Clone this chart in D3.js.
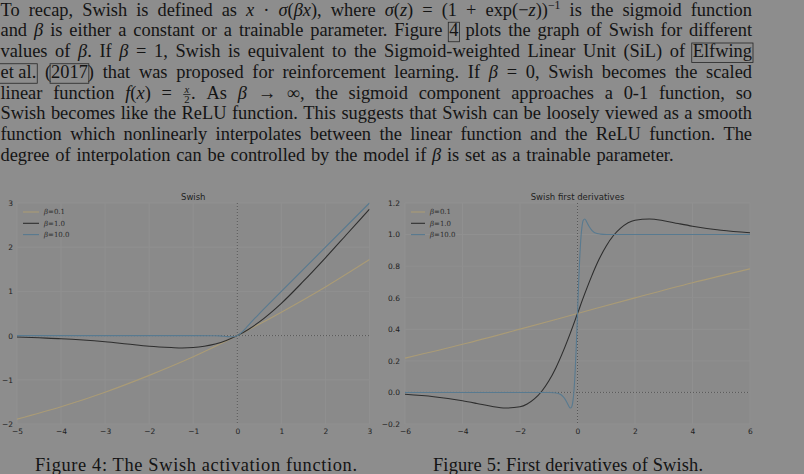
<!DOCTYPE html>
<html><head><meta charset="utf-8">
<script src="https://cdn.jsdelivr.net/npm/d3@7"></script>
<style>body{margin:0;background:#8d8d8d}svg{display:block}</style>
</head><body>
<svg id="c" width="804" height="474"></svg>
<script>
// ---------- DATA ----------
const paraLines = [
 "To recap, Swish is defined as _x_ · _σ_(_βx_), where _σ_(_z_) = (1 + exp(−_z_))^−1 is the sigmoid function",
 "and _β_ is either a constant or a trainable parameter. Figure [4] plots the graph of Swish for different",
 "values of _β_. If _β_ = 1, Swish is equivalent to the Sigmoid-weighted Linear Unit (SiL) of [Elfwing]",
 "[et~al.] ([2017]) that was proposed for reinforcement learning. If _β_ = 0, Swish becomes the scaled",
 "linear function _f_(_x_) = %. As _β_ → ∞, the sigmoid component approaches a 0-1 function, so",
 "Swish becomes like the ReLU function. This suggests that Swish can be loosely viewed as a smooth",
 "function which nonlinearly interpolates between the linear function and the ReLU function. The",
 "degree of interpolation can be controlled by the model if _β_ is set as a trainable parameter."
];
const captions = ["Figure 4: The Swish activation function.", "Figure 5: First derivatives of Swish."];
const titles = ["Swish", "Swish first derivatives"];
const legendLabels = ["0.1", "1.0", "10.0"];

// Chart 1: Swish
const c1XTicks = [-5,-4,-3,-2,-1,0,1,2,3];
const c1YTicks = [-2,-1,0,1,2,3];
const s01X = [-5,-4,-3,-2,-1,0,1,2,3];
const s01Y = [-1.89,-1.61,-1.28,-0.90,-0.48,0,0.53,1.10,1.72];
const s1X = [-5,-4.5,-4,-3.5,-3,-2.5,-2,-1.5,-1.25,-1,-0.75,-0.5,-0.25,0,0.25,0.5,0.75,1,1.5,2,2.5,3];
const s1Y = [-0.03,-0.05,-0.07,-0.10,-0.14,-0.19,-0.24,-0.27,-0.28,-0.27,-0.24,-0.19,-0.11,0,0.14,0.31,0.51,0.73,1.23,1.76,2.31,2.86];
const s10X = [-5,-1,-0.5,-0.4,-0.3,-0.2,-0.15,-0.1,-0.05,0,0.05,0.1,0.15,0.2,0.3,0.4,0.5,1,3];
const s10Y = [0,0,-0.003,-0.007,-0.014,-0.024,-0.027,-0.027,-0.019,0,0.031,0.073,0.123,0.176,0.286,0.393,0.497,1,3];

// Chart 2: first derivatives
const c2XTicks = [-6,-4,-2,0,2,4,6];
const c2YTicks = [-0.2,0.0,0.2,0.4,0.6,0.8,1.0,1.2];
const d01X = [-6,-4,-2,0,2,4,6];
const d01Y = [0.217,0.305,0.401,0.5,0.599,0.695,0.783];
const d1X = [-6,-5,-4,-3.5,-3,-2.5,-2,-1.75,-1.5,-1.25,-1,-0.75,-0.5,-0.25,0,0.25,0.5,0.75,1,1.25,1.5,2,2.5,3,3.5,4,5,6];
const d1Y = [-0.012,-0.027,-0.053,-0.070,-0.088,-0.099,-0.091,-0.073,-0.041,0.006,0.072,0.157,0.260,0.376,0.5,0.624,0.740,0.843,0.928,0.994,1.041,1.091,1.099,1.088,1.070,1.053,1.027,1.012];
const d10X = [-6,-1,-0.8,-0.6,-0.5,-0.4,-0.35,-0.3,-0.25,-0.2,-0.175,-0.15,-0.125,-0.1,-0.075,-0.05,-0.025,0,0.025,0.05,0.075,0.1,0.125,0.15,0.2,0.25,0.3,0.35,0.4,0.5,0.6,0.8,1,6];
const d10Y = [0,-0.0005,-0.002,-0.012,-0.027,-0.053,-0.070,-0.088,-0.099,-0.091,-0.073,-0.041,0.006,0.072,0.157,0.260,0.376,0.5,0.624,0.740,0.843,0.928,0.994,1.041,1.091,1.099,1.088,1.070,1.053,1.027,1.012,1.003,1.0005,1.0];

// ---------- STYLE ----------
const PAGE = "#8d8d8d", PLOT = "#8a8a8a", GRID = "#909090", TEXT = "#141414", AXT = "#1e1e1e";
const COLORS = ["#aa9b76", "#2e2e2e", "#587a90"];
const FS = 18.4;

const svg = d3.select("#c");
svg.append("rect").attr("width",804).attr("height",474).attr("fill",PAGE);

// ---------- PARAGRAPH ----------
const para = svg.append("g").attr("font-family","'Liberation Serif','Times New Roman',serif")
  .attr("font-size",FS).attr("fill",TEXT);

function parseToken(tok){
  const runs=[]; let it=false, box=false, sup=false; let cur={t:"",it,box,sup};
  const push=()=>{ if(cur.t) runs.push(cur); };
  for (const ch of tok){
    if(ch==='_'){ push(); it=!it; cur={t:"",it,box,sup}; }
    else if(ch==='['){ push(); box=true; cur={t:"",it,box,sup}; }
    else if(ch===']'){ push(); box=false; cur={t:"",it,box,sup}; }
    else if(ch==='^'){ push(); sup=true; cur={t:"",it,box,sup}; }
    else if(ch==='%'){ push(); runs.push({frac:true}); cur={t:"",it,box,sup}; }
    else cur.t += (ch==='~' ? '\u00a0' : ch);
  }
  push(); return runs;
}
function renderToken(g, runs){
  let x=0;
  runs.forEach(r=>{
    if(r.frac){
      const fs=FS*0.58;
      const n=g.append("text").attr("y",-5.8).attr("font-size",fs).attr("font-style","italic").text("x");
      const d=g.append("text").attr("y",4.6).attr("font-size",fs).text("2");
      const nw=n.node().getComputedTextLength(), dw=d.node().getComputedTextLength();
      const w=Math.max(nw,dw)+3;
      n.attr("x",x+(w-nw)/2); d.attr("x",x+(w-dw)/2);
      g.append("line").attr("x1",x+0.5).attr("x2",x+w-0.5).attr("y1",-4).attr("y2",-4)
        .attr("stroke",TEXT).attr("stroke-width",0.7);
      x+=w; return;
    }
    const t=g.append("text").attr("x",x).attr("y",r.sup?-6.3:0).text(r.t);
    if(r.it) t.attr("font-style","italic");
    if(r.sup) t.attr("font-size",FS*0.64);
    const w=t.node().getComputedTextLength();
    if(r.box) g.append("rect").attr("x",x-1).attr("y",-14).attr("width",w+2).attr("height",19.5)
      .attr("fill","none").attr("stroke","#262626").attr("stroke-width",0.8);
    x+=w;
  });
  return x;
}
const X0 = 0.5, BASE0 = 15.5, LEAD = 20.75;
const lineEnds = [752, 752, 752, 752, 752, 752, 752, 673.5];
paraLines.forEach((line,i)=>{
  const y = BASE0 + i*LEAD;
  const toks = line.split(" ");
  const gs = toks.map(tk=>{ const g=para.append("g"); const w=renderToken(g, parseToken(tk)); return {g,w}; });
  const total = d3.sum(gs,d=>d.w);
  const gap = (lineEnds[i]-X0-total)/(gs.length-1);
  let x = X0;
  gs.forEach(d=>{ d.g.attr("transform",`translate(${x},${y})`); x += d.w + gap; });
});

// captions
const capX = [35, 433], capW = [322, 270];
svg.append("g").attr("font-family","'Liberation Serif','Times New Roman',serif").attr("font-size",FS).attr("fill",TEXT)
  .selectAll("text").data(captions).join("text")
  .attr("x",(d,i)=>capX[i]).attr("y",470.5)
  .attr("textLength",(d,i)=>capW[i]).attr("lengthAdjust","spacing").text(d=>d);

// ---------- CHARTS ----------
function chart(cfg){
  const x = d3.scaleLinear(cfg.xd,[cfg.left,cfg.right]);
  const y = d3.scaleLinear(cfg.yd,[cfg.bottom,cfg.top]);
  const g = svg.append("g");
  g.append("rect").attr("x",cfg.left).attr("y",cfg.top).attr("width",cfg.right-cfg.left)
    .attr("height",cfg.bottom-cfg.top).attr("fill",PLOT);
  // grid
  g.selectAll(".gx").data(cfg.xt).join("line").attr("x1",d=>x(d)).attr("x2",d=>x(d))
    .attr("y1",cfg.top).attr("y2",cfg.bottom).attr("stroke",GRID).attr("stroke-width",1);
  g.selectAll(".gy").data(cfg.yt).join("line").attr("y1",d=>y(d)).attr("y2",d=>y(d))
    .attr("x1",cfg.left).attr("x2",cfg.right).attr("stroke",GRID).attr("stroke-width",1);
  // zero lines
  g.append("line").attr("x1",x(0)).attr("x2",x(0)).attr("y1",cfg.top).attr("y2",cfg.bottom)
    .attr("stroke","#4a4a4a").attr("stroke-width",0.8).attr("stroke-dasharray","1,2");
  g.append("line").attr("x1",cfg.left).attr("x2",cfg.right).attr("y1",y(0)).attr("y2",y(0))
    .attr("stroke","#4a4a4a").attr("stroke-width",0.8).attr("stroke-dasharray","1,2");
  // curves
  const clipId = "clip"+cfg.id;
  svg.append("clipPath").attr("id",clipId).append("rect").attr("x",cfg.left).attr("y",cfg.top-2)
    .attr("width",cfg.right-cfg.left).attr("height",cfg.bottom-cfg.top+4);
  const line = d3.line().x(d=>x(d[0])).y(d=>y(d[1])).curve(d3.curveMonotoneX);
  cfg.series.forEach((s,i)=>{
    g.append("path").attr("clip-path",`url(#${clipId})`).attr("d",line(d3.zip(s[0],s[1])))
      .attr("fill","none").attr("stroke",COLORS[i]).attr("stroke-width",1.1);
  });
  // axes (labels only)
  const ax = g.append("g").attr("transform",`translate(0,${cfg.bottom})`)
    .call(d3.axisBottom(x).tickValues(cfg.xt).tickSize(0).tickPadding(5).tickFormat(cfg.xf));
  ax.select(".domain").remove();
  const ay = g.append("g").attr("transform",`translate(${cfg.left},0)`)
    .call(d3.axisLeft(y).tickValues(cfg.yt).tickSize(0).tickPadding(cfg.ypad).tickFormat(cfg.yf));
  ay.select(".domain").remove();
  [ax,ay].forEach(a=>a.selectAll("text").attr("font-family","'DejaVu Sans',sans-serif").attr("font-size",7.5).attr("fill",AXT));
  // title
  g.append("text").attr("x",(cfg.left+cfg.right)/2).attr("y",200).attr("text-anchor","middle")
    .attr("font-family","'DejaVu Sans',sans-serif").attr("font-size",8.5).attr("fill",AXT).text(cfg.title);
  // legend
  const lg = g.append("g");
  legendLabels.forEach((lab,i)=>{
    const ly = 212 + i*11.3;
    lg.append("line").attr("x1",cfg.left+6).attr("x2",cfg.left+cfg.legW).attr("y1",ly).attr("y2",ly)
      .attr("stroke",COLORS[i]).attr("stroke-width",1.1);
    const t = lg.append("text").attr("x",cfg.left+cfg.legW+5).attr("y",ly+2.4)
      .attr("font-family","'DejaVu Serif',serif").attr("font-size",7).attr("fill","#2a2a2a");
    t.append("tspan").attr("font-style","italic").text("β");
    t.append("tspan").text("=" + lab);
  });
}
const fmtMinus = d => (d<0?"−":"") + Math.abs(d);
chart({id:1, xd:[-5,3], yd:[-2,3], left:17, right:369.5, top:203, bottom:424,
  xt:c1XTicks, yt:c1YTicks, xf:fmtMinus, yf:fmtMinus, ypad:4, title:titles[0], legW:22,
  series:[[s01X,s01Y],[s1X,s1Y],[s10X,s10Y]]});
chart({id:2, xd:[-6,6], yd:[-0.2,1.2], left:405, right:750, top:203, bottom:424,
  xt:c2XTicks, yt:c2YTicks, xf:fmtMinus, yf:d=>(d<0?"−":"")+Math.abs(d).toFixed(1), ypad:5, title:titles[1], legW:20,
  series:[[d01X,d01Y],[d1X,d1Y],[d10X,d10Y]]});
</script>
</body></html>
